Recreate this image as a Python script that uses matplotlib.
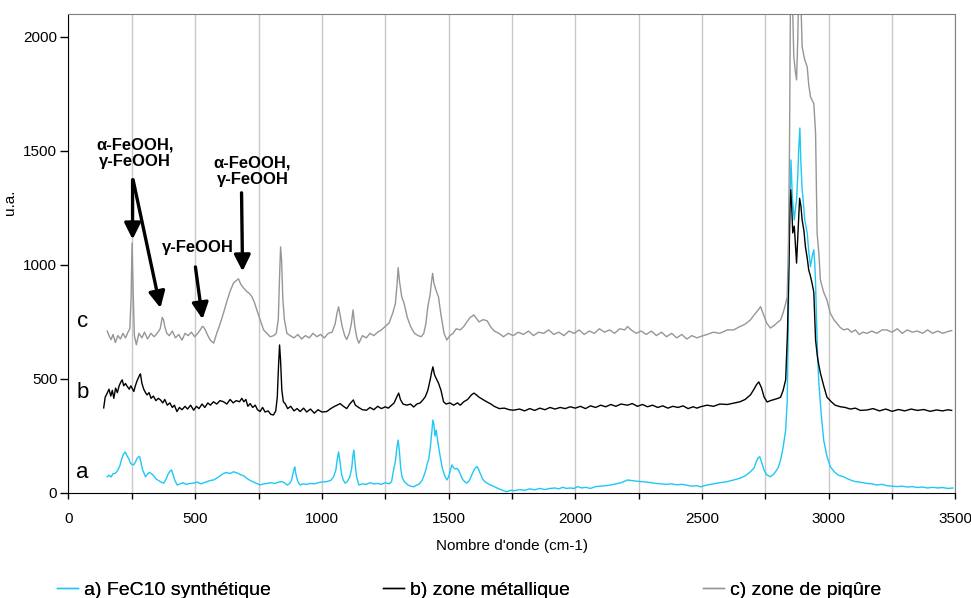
import numpy as np
import matplotlib
matplotlib.use("Agg")
import matplotlib.pyplot as plt
from matplotlib.ticker import MultipleLocator

plt.rcParams['font.family'] = ['Liberation Sans', 'DejaVu Sans']

# Raman spectra: (wavenumber cm-1, intensity u.a.)
spec_a = [
    (153, 71), (160, 78), (168, 70), (176, 85), (185, 86), (195, 100), (203, 120), (210, 150),
    (217, 170), (224, 180), (230, 165), (238, 150), (245, 130), (251, 125), (257, 123), (264, 135),
    (270, 150), (276, 158), (281, 159), (287, 130), (293, 100), (299, 85), (304, 71), (310, 80),
    (318, 90), (326, 86), (337, 75), (345, 62), (355, 55), (365, 48), (376, 43), (385, 60),
    (392, 80), (400, 95), (407, 101), (413, 80), (420, 55), (429, 35), (440, 40), (452, 45),
    (465, 38), (480, 42), (494, 43), (508, 48), (522, 40), (535, 45), (548, 50), (560, 55),
    (573, 57), (585, 65), (598, 75), (612, 86), (625, 90), (638, 85), (651, 93), (665, 88),
    (680, 80), (692, 75), (704, 64), (717, 55), (730, 48), (743, 42), (756, 35), (770, 40),
    (785, 42), (800, 45), (815, 42), (830, 48), (842, 50), (852, 45), (862, 35), (872, 40),
    (880, 55), (886, 85), (890, 105), (893, 114), (898, 80), (905, 50), (914, 35), (925, 40),
    (940, 38), (955, 42), (970, 40), (985, 45), (1000, 48), (1019, 50), (1035, 55), (1046, 71),
    (1055, 100), (1061, 150), (1066, 180), (1071, 140), (1078, 80), (1085, 55), (1092, 43),
    (1100, 50), (1110, 70), (1118, 110), (1122, 160), (1126, 188), (1131, 130), (1137, 70),
    (1146, 35), (1160, 40), (1175, 38), (1190, 45), (1205, 40), (1220, 42), (1235, 38),
    (1250, 45), (1265, 40), (1275, 50), (1283, 101), (1290, 140), (1296, 200), (1301, 232),
    (1306, 180), (1311, 110), (1316, 71), (1325, 50), (1340, 35), (1350, 30), (1362, 27),
    (1375, 35), (1385, 40), (1395, 55), (1401, 71), (1410, 100), (1416, 130), (1421, 145),
    (1428, 200), (1434, 270), (1438, 320), (1442, 300), (1446, 250), (1451, 276), (1458, 220),
    (1467, 159), (1475, 110), (1485, 75), (1493, 57), (1500, 70), (1507, 100), (1513, 123),
    (1520, 110), (1527, 105), (1533, 108), (1539, 101), (1547, 80), (1555, 60), (1563, 50),
    (1572, 43), (1582, 55), (1592, 80), (1600, 100), (1607, 112), (1612, 116), (1618, 105),
    (1625, 85), (1635, 60), (1645, 48), (1652, 43), (1665, 35), (1680, 28), (1691, 22),
    (1705, 15), (1717, 10), (1730, 6), (1745, 12), (1760, 10), (1780, 15), (1800, 12),
    (1820, 18), (1840, 14), (1860, 20), (1880, 15), (1900, 20), (1920, 22), (1935, 18),
    (1950, 25), (1965, 20), (1980, 22), (1995, 20), (2010, 28), (2025, 22), (2040, 25),
    (2060, 20), (2080, 28), (2100, 30), (2120, 32), (2140, 35), (2160, 40), (2180, 45),
    (2195, 52), (2206, 57), (2220, 55), (2240, 52), (2260, 50), (2280, 48), (2300, 45),
    (2320, 42), (2340, 40), (2360, 38), (2380, 40), (2400, 36), (2420, 38), (2440, 34),
    (2460, 30), (2480, 32), (2494, 27), (2520, 35), (2545, 40), (2570, 45), (2600, 50),
    (2625, 57), (2650, 65), (2670, 75), (2691, 93), (2705, 110), (2715, 140), (2722, 155),
    (2728, 159), (2735, 135), (2745, 100), (2755, 80), (2770, 71), (2785, 85), (2800, 110),
    (2810, 145), (2820, 200), (2830, 276), (2836, 400), (2840, 700), (2845, 1200), (2851, 1460),
    (2856, 1300), (2860, 1250), (2864, 1197), (2868, 1240), (2873, 1285), (2878, 1400),
    (2882, 1520), (2886, 1600), (2890, 1450), (2895, 1330), (2899, 1285), (2905, 1200),
    (2910, 1170), (2915, 1140), (2921, 1060), (2928, 992), (2935, 1040), (2941, 1066),
    (2945, 1000), (2948, 920), (2952, 750), (2956, 600), (2961, 482), (2970, 350), (2980, 232),
    (2993, 160), (3006, 116), (3020, 95), (3035, 80), (3046, 75), (3059, 71), (3075, 62),
    (3090, 55), (3105, 50), (3120, 48), (3135, 45), (3151, 42), (3170, 40), (3190, 35),
    (3210, 38), (3230, 32), (3250, 30), (3270, 28), (3290, 30), (3310, 26), (3330, 28),
    (3350, 24), (3370, 26), (3390, 22), (3410, 25), (3430, 22), (3450, 24), (3470, 20), (3490, 22),
]

spec_b = [
    (139, 373), (145, 420), (153, 438), (160, 455), (167, 425), (173, 450), (179, 415), (186, 460),
    (193, 440), (200, 470), (206, 485), (212, 496), (218, 470), (225, 480), (232, 467), (240, 455),
    (246, 470), (251, 460), (258, 445), (264, 470), (270, 490), (276, 505), (280, 515), (284, 522),
    (290, 480), (297, 455), (304, 440), (310, 430), (318, 440), (326, 415), (335, 425), (345, 405),
    (355, 415), (363, 408), (372, 395), (380, 410), (390, 385), (400, 395), (410, 375), (418, 385),
    (428, 357), (438, 375), (448, 365), (460, 380), (470, 368), (482, 385), (494, 363), (505, 380),
    (515, 370), (527, 390), (538, 375), (550, 395), (560, 385), (572, 400), (585, 390), (598, 405),
    (612, 400), (625, 390), (638, 410), (650, 395), (662, 405), (675, 400), (684, 415), (692, 400),
    (700, 410), (708, 380), (717, 392), (727, 375), (737, 385), (746, 365), (756, 357), (766, 375),
    (776, 355), (788, 360), (798, 345), (809, 342), (818, 360), (824, 420), (829, 560), (833, 649),
    (837, 580), (842, 450), (848, 400), (855, 392), (865, 370), (877, 380), (890, 360), (902, 370),
    (914, 357), (928, 372), (940, 355), (955, 368), (970, 350), (985, 365), (1000, 355),
    (1019, 357), (1035, 370), (1050, 380), (1060, 385), (1072, 392), (1085, 380), (1098, 370),
    (1110, 390), (1118, 400), (1124, 408), (1132, 385), (1145, 375), (1160, 365), (1176, 363),
    (1190, 375), (1205, 365), (1220, 380), (1235, 370), (1250, 378), (1262, 372), (1275, 385),
    (1285, 395), (1295, 420), (1303, 438), (1310, 410), (1320, 390), (1335, 385), (1350, 390),
    (1362, 377), (1375, 390), (1388, 395), (1400, 410), (1408, 422), (1418, 450), (1428, 500),
    (1433, 530), (1438, 553), (1444, 520), (1452, 500), (1460, 482), (1470, 450), (1480, 400),
    (1490, 390), (1505, 395), (1520, 385), (1535, 395), (1546, 385), (1560, 400), (1575, 410),
    (1590, 430), (1600, 438), (1610, 430), (1620, 420), (1635, 410), (1650, 400), (1664, 392),
    (1680, 380), (1700, 370), (1720, 372), (1740, 365), (1756, 363), (1780, 368), (1800, 360),
    (1820, 370), (1840, 362), (1860, 372), (1880, 365), (1900, 375), (1920, 368), (1940, 375),
    (1960, 370), (1980, 378), (2000, 372), (2020, 380), (2040, 370), (2060, 382), (2080, 375),
    (2100, 385), (2120, 378), (2140, 388), (2160, 380), (2180, 390), (2206, 385), (2225, 392),
    (2245, 380), (2265, 388), (2285, 378), (2305, 385), (2325, 375), (2345, 382), (2365, 372),
    (2385, 380), (2405, 375), (2425, 382), (2445, 370), (2465, 378), (2480, 372), (2494, 378),
    (2520, 385), (2545, 380), (2570, 390), (2600, 388), (2625, 394), (2650, 400), (2670, 410),
    (2691, 430), (2705, 455), (2715, 475), (2724, 487), (2735, 460), (2745, 420), (2757, 399),
    (2770, 405), (2785, 410), (2800, 415), (2810, 420), (2820, 450), (2830, 496), (2837, 700),
    (2843, 1000), (2847, 1250), (2850, 1329), (2854, 1250), (2858, 1140), (2864, 1170),
    (2868, 1100), (2873, 1008), (2879, 1150), (2885, 1292), (2890, 1260), (2895, 1197),
    (2902, 1150), (2908, 1079), (2915, 1030), (2921, 978), (2928, 950), (2934, 920), (2941, 880),
    (2948, 671), (2955, 600), (2961, 560), (2967, 526), (2980, 470), (2993, 420), (3010, 400),
    (3025, 385), (3046, 378), (3065, 375), (3085, 368), (3105, 372), (3125, 362), (3151, 364),
    (3175, 370), (3200, 360), (3225, 368), (3250, 358), (3275, 366), (3300, 360), (3325, 368),
    (3350, 362), (3375, 366), (3400, 358), (3425, 364), (3450, 360), (3470, 365), (3485, 362),
]

spec_c = [
    (153, 710), (160, 690), (168, 672), (176, 695), (185, 660), (195, 690), (205, 675), (215, 700),
    (225, 680), (235, 705), (242, 720), (247, 850), (251, 1096), (255, 900), (260, 690), (268, 650),
    (278, 700), (290, 680), (300, 705), (312, 675), (325, 700), (338, 685), (350, 700), (362, 720),
    (370, 770), (375, 760), (380, 730), (388, 700), (398, 690), (410, 710), (422, 680), (435, 695),
    (448, 670), (460, 700), (472, 690), (485, 705), (498, 685), (510, 700), (520, 715), (528, 730),
    (533, 728), (540, 715), (550, 690), (560, 670), (573, 657), (585, 700), (598, 740), (612, 790),
    (625, 840), (638, 885), (651, 920), (661, 930), (671, 939), (680, 915), (690, 900), (704, 883),
    (714, 875), (724, 860), (734, 835), (743, 803), (756, 760), (770, 715), (783, 700), (796, 685),
    (810, 690), (820, 700), (828, 760), (833, 950), (837, 1079), (841, 1020), (846, 850),
    (852, 760), (862, 700), (875, 690), (890, 680), (905, 695), (920, 675), (935, 690), (950, 680),
    (965, 700), (980, 685), (995, 695), (1010, 680), (1025, 700), (1040, 705), (1052, 740),
    (1060, 790), (1066, 816), (1072, 780), (1080, 730), (1090, 690), (1098, 673), (1108, 700),
    (1116, 740), (1123, 803), (1130, 730), (1138, 680), (1146, 657), (1160, 690), (1175, 680),
    (1190, 700), (1205, 690), (1220, 705), (1235, 715), (1250, 730), (1265, 745), (1280, 790),
    (1290, 830), (1297, 920), (1301, 988), (1306, 930), (1315, 860), (1324, 833), (1337, 770),
    (1350, 730), (1365, 700), (1380, 690), (1392, 685), (1402, 700), (1410, 740), (1418, 817),
    (1427, 870), (1433, 930), (1437, 963), (1442, 920), (1450, 890), (1460, 860), (1470, 780),
    (1482, 700), (1493, 671), (1505, 690), (1518, 700), (1530, 720), (1546, 715), (1560, 730),
    (1572, 750), (1585, 770), (1593, 775), (1599, 781), (1607, 770), (1620, 750), (1636, 760),
    (1652, 755), (1665, 730), (1680, 710), (1698, 700), (1717, 685), (1735, 700), (1755, 690),
    (1775, 705), (1795, 695), (1815, 710), (1835, 690), (1855, 705), (1875, 700), (1895, 715),
    (1915, 695), (1935, 705), (1955, 690), (1975, 710), (1995, 700), (2015, 715), (2035, 695),
    (2055, 710), (2075, 700), (2095, 720), (2115, 705), (2135, 715), (2155, 700), (2175, 720),
    (2195, 715), (2206, 730), (2220, 715), (2240, 700), (2260, 710), (2280, 695), (2300, 710),
    (2320, 690), (2340, 705), (2360, 685), (2380, 700), (2400, 680), (2420, 695), (2440, 675),
    (2460, 690), (2480, 680), (2494, 686), (2520, 695), (2545, 705), (2570, 700), (2600, 715),
    (2625, 715), (2650, 730), (2670, 740), (2691, 759), (2705, 780), (2720, 800), (2731, 817),
    (2740, 790), (2755, 745), (2770, 723), (2785, 735), (2800, 750), (2810, 759), (2820, 790),
    (2830, 830), (2836, 860), (2841, 1100), (2845, 1500), (2849, 2200), (2855, 2250),
    (2862, 1914), (2868, 1850), (2873, 1811), (2878, 2000), (2882, 2250), (2889, 2200),
    (2895, 1956), (2905, 1900), (2915, 1868), (2921, 1790), (2928, 1737), (2935, 1720),
    (2941, 1708), (2948, 1579), (2954, 1140), (2961, 1050), (2967, 934), (2980, 880), (2993, 846),
    (3006, 788), (3020, 760), (3035, 740), (3046, 725), (3059, 715), (3075, 720), (3090, 705),
    (3105, 715), (3120, 695), (3135, 705), (3151, 700), (3170, 710), (3190, 700), (3210, 715),
    (3229, 715), (3250, 705), (3270, 720), (3290, 700), (3310, 715), (3330, 705), (3350, 710),
    (3370, 700), (3390, 715), (3410, 700), (3430, 710), (3450, 700), (3470, 708), (3485, 712),
]

labels = ["a) FeC10 synthétique", "b) zone métallique", "c) zone de piqûre"]
colours = ["#1ec8f5", "black", "#969696"]
curve_tags = ["a", "b", "c"]
tag_pos = [(55, 66), (55, 417), (55, 726)]
legend_x = [0.0585, 0.3945, 0.7235]   # left edge of each legend entry (figure fraction)

# peak assignments: text, text position, list of arrow (start, tip)
notes = [
    ("α-FeOOH,\nγ-FeOOH", (262, 1490), [((253, 1373), (253, 1112)), ((255, 1373), (363, 811))]),
    ("γ-FeOOH", (509, 1075), [((501, 991), (529, 762))]),
    ("α-FeOOH,\nγ-FeOOH", (726, 1410), [((683, 1316), (687, 972))]),
]

fig = plt.figure(figsize=(9.71, 5.98), dpi=100)
ax = fig.add_axes([0.0705, 0.1756, 0.9135, 0.801])

lines = []
for spec, lab, col in zip([spec_a, spec_b, spec_c], labels, colours):
    xs, ys = zip(*spec)
    ln, = ax.plot(xs, ys, color=col, lw=1.0, label=lab)
    lines.append(ln)

ax.set_xlim(0, 3500)
ax.set_ylim(0, 2100)
ax.xaxis.set_major_locator(MultipleLocator(500))
ax.xaxis.set_minor_locator(MultipleLocator(250))
ax.yaxis.set_major_locator(MultipleLocator(500))
ax.grid(axis='x', which='both', color='#c8c8c8', lw=1.0)
ax.set_axisbelow(True)
ax.tick_params(axis='x', which='both', direction='out', length=4, width=1, pad=10, labelsize=11)
ax.tick_params(axis='y', direction='out', length=6, width=1, pad=2, labelsize=11)

for side in ['top', 'right']:
    ax.spines[side].set_color('#808080')
for side in ['left', 'bottom']:
    ax.spines[side].set_color('black')

ax.set_xlabel("Nombre d'onde (cm-1)", fontsize=11, labelpad=9)
ax.set_ylabel("u.a.", fontsize=11)
ax.yaxis.set_label_coords(-0.058, 0.607)

for tag, (tx, ty) in zip(curve_tags, tag_pos):
    ax.text(tx, ty, tag, fontsize=16, ha='center', va='baseline')

for txt, (tx, ty), arrows in notes:
    ax.text(tx, ty, txt, fontsize=12, fontweight='bold', ha='center', va='center',
            linespacing=1.15)
    for start, tip in arrows:
        ax.annotate('', xy=tip, xytext=start,
                    arrowprops=dict(arrowstyle='-|>,head_length=0.7,head_width=0.35',
                                    mutation_scale=14, lw=2.4, color='black',
                                    shrinkA=0, shrinkB=0))

# one legend per entry so the spacing follows the reference
for ln, lx in zip(lines, legend_x):
    leg = fig.legend([ln], [ln.get_label()], loc='center left', bbox_to_anchor=(lx, 0.013),
                     frameon=False, fontsize=14, handlelength=1.1, handletextpad=0.3,
                     borderpad=0, borderaxespad=0)
    fig.add_artist(leg)

fig.savefig("out.png", dpi=100)
